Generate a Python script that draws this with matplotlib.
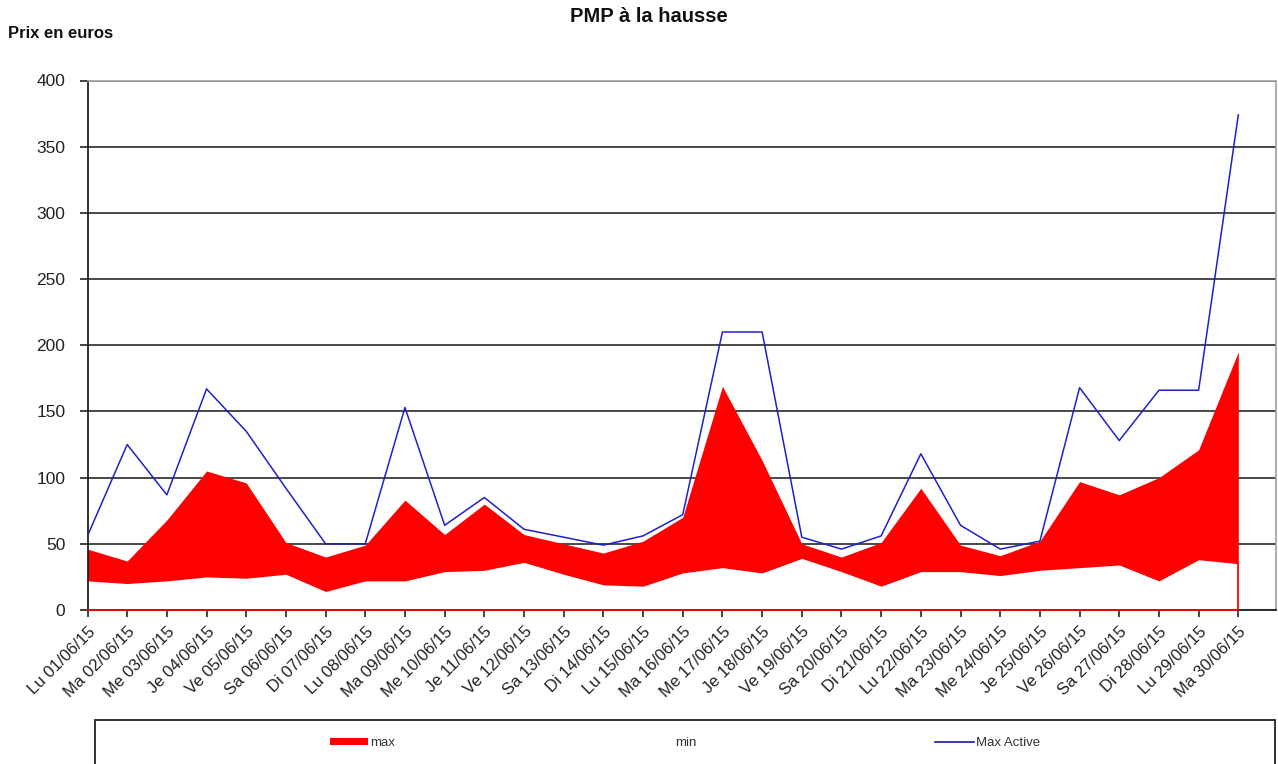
import matplotlib
matplotlib.use("Agg")
import matplotlib.pyplot as plt
from matplotlib.patches import Patch, Rectangle
from matplotlib.lines import Line2D

plt.rcParams['font.family'] = ['Liberation Sans', 'DejaVu Sans']

labels = ["Lu 01/06/15", "Ma 02/06/15", "Me 03/06/15", "Je 04/06/15", "Ve 05/06/15",
          "Sa 06/06/15", "Di 07/06/15", "Lu 08/06/15", "Ma 09/06/15", "Me 10/06/15",
          "Je 11/06/15", "Ve 12/06/15", "Sa 13/06/15", "Di 14/06/15", "Lu 15/06/15",
          "Ma 16/06/15", "Me 17/06/15", "Je 18/06/15", "Ve 19/06/15", "Sa 20/06/15",
          "Di 21/06/15", "Lu 22/06/15", "Ma 23/06/15", "Me 24/06/15", "Je 25/06/15",
          "Ve 26/06/15", "Sa 27/06/15", "Di 28/06/15", "Lu 29/06/15", "Ma 30/06/15"]

max_vals = [46, 37, 68, 105, 96, 51, 40, 49, 83, 57, 80, 57, 50, 43, 52, 70, 169, 113,
            50, 40, 51, 92, 49, 41, 52, 97, 87, 100, 121, 195]
min_vals = [22, 20, 22, 25, 24, 27, 14, 22, 22, 29, 30, 36, 27, 19, 18, 28, 32, 28,
            39, 29, 18, 29, 29, 26, 30, 32, 34, 22, 38, 35]
max_active = [56, 125, 87, 167, 135, 92, 50, 50, 153, 64, 85, 61, 55, 49, 56, 72, 210, 210,
              55, 46, 56, 118, 64, 46, 52, 168, 128, 166, 166, 374]

yticks = [0, 50, 100, 150, 200, 250, 300, 350, 400]

W, H = 1278, 764
fig = plt.figure(figsize=(W / 100, H / 100), dpi=100)
ax = fig.add_axes([87.5 / W, 1 - 610 / H, (1276 - 87.5) / W, (610 - 80.5) / H])

x = list(range(len(labels)))
red = '#ff0000'
ax.fill_between(x, min_vals, max_vals, color=red, linewidth=0, zorder=2)
# bottom edge of the area series (drawn in red at 0 and closing at the last point)
ax.plot([x[0], x[-1], x[-1]], [0, 0, min_vals[-1]], color=red, lw=1.3, zorder=3, clip_on=False)
ax.plot(x, max_active, color='#2020cc', lw=1.1, zorder=4)

ax.set_xlim(0, 29.95)
ax.set_ylim(0, 400)
ax.set_yticks(yticks)
ax.set_xticks(x)
ax.set_xticklabels(labels, rotation=45, ha='right', va='top', rotation_mode='anchor', fontsize=12)
ax.tick_params(axis='y', labelsize=12.5, length=6, width=1.2, pad=10, colors='#222222')
ax.tick_params(axis='x', length=5, width=1.2, pad=5, colors='#222222')
ax.grid(axis='y', color='#2a2a2a', lw=1.2, zorder=1)
ax.set_axisbelow(True)
for s in ['left', 'bottom']:
    ax.spines[s].set_color('#222222')
    ax.spines[s].set_linewidth(1.3)
for s in ['top', 'right']:
    ax.spines[s].set_color('#a0a0a0')
    ax.spines[s].set_linewidth(1.2)

fig.text(649 / W, 1 - 16 / H, "PMP à la hausse", ha='center', va='center',
         fontsize=14.5, fontweight='bold', color='#111111')
fig.text(8 / W, 1 - 34 / H, "Prix en euros", ha='left', va='center',
         fontsize=12, fontweight='bold', color='#111111')

# legend box
fig.patches.append(Rectangle((95 / W, -0.02), (1275 - 95) / W, 0.02 + 1 - 720 / H,
                             transform=fig.transFigure, fill=False,
                             edgecolor='#222222', lw=1.3))
handles = [Patch(facecolor=red, edgecolor='none'),
           Patch(facecolor='white', edgecolor='none'),
           Line2D([0], [0], color='#1a1aa0', lw=1.2)]
fig.legend(handles, ['max', 'min', 'Max Active'], loc='center',
           bbox_to_anchor=(685 / W, 1 - 743 / H), ncol=3, frameon=False,
           fontsize=9.5, handlelength=2.9, handleheight=0.5, handletextpad=0.2,
           columnspacing=18.1, labelcolor='#333333')

fig.savefig('out.png', dpi=100)
